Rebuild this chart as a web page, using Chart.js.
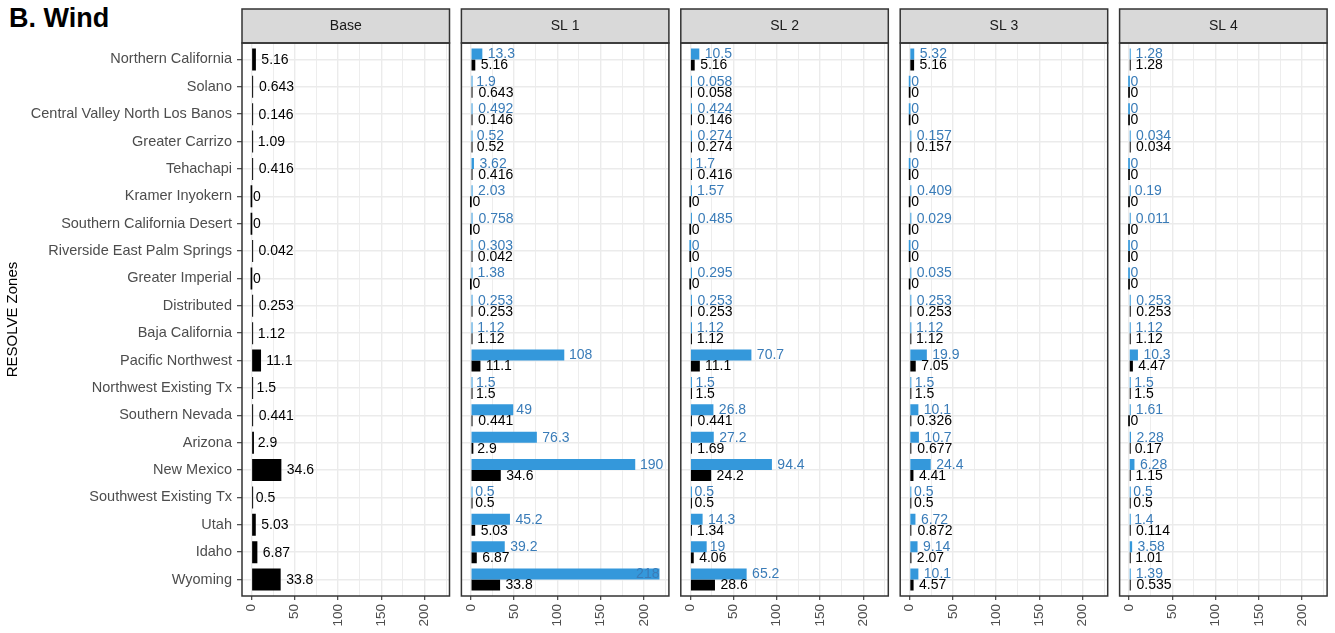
<!DOCTYPE html>
<html>
<head>
<meta charset="utf-8">
<script src="https://cdn.jsdelivr.net/npm/chart.js@4.4.1/dist/chart.umd.min.js"></script>
<style>
  html, body { margin:0; padding:0; background:#ffffff; }
  body { width:1335px; height:633px; position:relative; overflow:hidden; font-family:"Liberation Sans", Arial, sans-serif; }
  canvas { position:absolute; }
  #title { position:absolute; left:9px; top:5px; font-weight:bold; font-size:27px; line-height:27px; color:#000; white-space:nowrap; }
</style>
</head>
<body>
<div id="title">B. Wind</div>
<script>
// ---------------- data ----------------
const zones = [
  "Northern California", "Solano", "Central Valley North Los Banos", "Greater Carrizo",
  "Tehachapi", "Kramer Inyokern", "Southern California Desert", "Riverside East Palm Springs",
  "Greater Imperial", "Distributed", "Baja California", "Pacific Northwest",
  "Northwest Existing Tx", "Southern Nevada", "Arizona", "New Mexico",
  "Southwest Existing Tx", "Utah", "Idaho", "Wyoming"
];
const panelNames = ["Base", "SL 1", "SL 2", "SL 3", "SL 4"];

const baseBlack = [5.16, 0.643, 0.146, 1.09, 0.416, 0, 0, 0.042, 0, 0.253, 1.12, 11.1, 1.5, 0.441, 2.9, 34.6, 0.5, 5.03, 6.87, 33.8];

const sl1Blue  = [13.3, 1.9, 0.492, 0.52, 3.62, 2.03, 0.758, 0.303, 1.38, 0.253, 1.12, 108, 1.5, 49, 76.3, 190, 0.5, 45.2, 39.2, 218];
const sl1Black = [5.16, 0.643, 0.146, 0.52, 0.416, 0, 0, 0.042, 0, 0.253, 1.12, 11.1, 1.5, 0.441, 2.9, 34.6, 0.5, 5.03, 6.87, 33.8];

const sl2Blue  = [10.5, 0.058, 0.424, 0.274, 1.7, 1.57, 0.485, 0, 0.295, 0.253, 1.12, 70.7, 1.5, 26.8, 27.2, 94.4, 0.5, 14.3, 19, 65.2];
const sl2Black = [5.16, 0.058, 0.146, 0.274, 0.416, 0, 0, 0, 0, 0.253, 1.12, 11.1, 1.5, 0.441, 1.69, 24.2, 0.5, 1.34, 4.06, 28.6];

const sl3Blue  = [5.32, 0, 0, 0.157, 0, 0.409, 0.029, 0, 0.035, 0.253, 1.12, 19.9, 1.5, 10.1, 10.7, 24.4, 0.5, 6.72, 9.14, 10.1];
const sl3Black = [5.16, 0, 0, 0.157, 0, 0, 0, 0, 0, 0.253, 1.12, 7.05, 1.5, 0.326, 0.677, 4.41, 0.5, 0.872, 2.07, 4.57];

const sl4Blue  = [1.28, 0, 0, 0.034, 0, 0.19, 0.011, 0, 0, 0.253, 1.12, 10.3, 1.5, 1.61, 2.28, 6.28, 0.5, 1.4, 3.58, 1.39];
const sl4Black = [1.28, 0, 0, 0.034, 0, 0, 0, 0, 0, 0.253, 1.12, 4.47, 1.5, 0, 0.17, 1.15, 0.5, 0.114, 1.01, 0.535];

const xMajorTicks = [0, 50, 100, 150, 200];
const xMinorTicks = [25, 75, 125, 175, 225];
const xLimits = [-10.9, 228.9];

// ---------------- style / layout ----------------
const W = 1335, H = 633;
const STRIP_TOP = 9, PLOT_TOP = 43, PLOT_BOTTOM = 596;
const FIRST_LEFT = 242, PANEL_W = 207.5, PANEL_STEP = 219.4;
const BLUE = "#3498DB", BLUE_TEXT = "#3A7CB8", BLACK = "#000000";
const FONT = '"Liberation Sans", Arial, sans-serif';

const panelSeries = [
  [{ values: baseBlack, color: BLACK, text: BLACK }],
  [{ values: sl1Blue, color: BLUE, text: BLUE_TEXT }, { values: sl1Black, color: BLACK, text: BLACK }],
  [{ values: sl2Blue, color: BLUE, text: BLUE_TEXT }, { values: sl2Black, color: BLACK, text: BLACK }],
  [{ values: sl3Blue, color: BLUE, text: BLUE_TEXT }, { values: sl3Black, color: BLACK, text: BLACK }],
  [{ values: sl4Blue, color: BLUE, text: BLUE_TEXT }, { values: sl4Black, color: BLACK, text: BLACK }]
];

const panelDeco = {
  id: 'panelDeco',
  afterDraw(chart, args, opts) {
    const { ctx, chartArea: a } = chart;
    ctx.save();
    ctx.fillStyle = '#D9D9D9';
    ctx.fillRect(a.left, STRIP_TOP, a.right - a.left, a.top - STRIP_TOP);
    ctx.strokeStyle = '#333333';
    ctx.lineWidth = 1.5;
    ctx.strokeRect(a.left, STRIP_TOP, a.right - a.left, a.top - STRIP_TOP);
    ctx.strokeRect(a.left, a.top, a.right - a.left, a.bottom - a.top);
    ctx.fillStyle = '#1A1A1A';
    ctx.font = '14px ' + FONT;
    ctx.textAlign = 'center';
    ctx.textBaseline = 'middle';
    ctx.fillText(opts.title, (a.left + a.right) / 2, (STRIP_TOP + a.top) / 2 + 0.5);
    ctx.restore();
  }
};

const barLabels = {
  id: 'barLabels',
  afterDatasetsDraw(chart) {
    const { ctx, chartArea: a } = chart;
    const xs = chart.scales.x;
    ctx.save();
    ctx.font = '14px ' + FONT;
    ctx.textBaseline = 'middle';
    chart.data.datasets.forEach((ds, di) => {
      const meta = chart.getDatasetMeta(di);
      meta.data.forEach((bar, j) => {
        const v = ds.data[j].x;
        const txt = String(v);
        const w = ctx.measureText(txt).width;
        const px = xs.getPixelForValue(v);
        let x = px + 0.2 * w;
        ctx.textAlign = 'left';
        if (x + w > a.right - 2) { x = px; ctx.textAlign = 'right'; }
        ctx.fillStyle = ds.labelColor;
        ctx.fillText(txt, x, bar.y + 0.5);
      });
    });
    ctx.restore();
  }
};

function makePanel(pi) {
  const left = FIRST_LEFT + pi * PANEL_STEP;
  const right = left + PANEL_W;
  const cLeft = pi === 0 ? 0 : Math.floor(left) - 10;
  const cRight = Math.ceil(right) + 8;
  const cw = cRight - cLeft;
  const canvas = document.createElement('canvas');
  canvas.width = cw; canvas.height = H;
  canvas.style.left = cLeft + 'px'; canvas.style.top = '0px';
  canvas.style.width = cw + 'px'; canvas.style.height = H + 'px';
  document.body.appendChild(canvas);
  const padLeft = pi === 0 ? 0 : left - cLeft;
  const padRight = cRight - right;
  const isBase = pi === 0;

  const datasets = panelSeries[pi].map(s => ({
    data: s.values.map((v, i) => ({ x: v, y: i })),
    backgroundColor: s.color,
    borderWidth: 0,
    labelColor: s.text,
    categoryPercentage: 0.8,
    barPercentage: 1.0,
    minBarLength: 1.7
  }));

  const isMajor = v => xMajorTicks.includes(v);

  new Chart(canvas, {
    type: 'bar',
    data: { datasets },
    plugins: [barLabels, panelDeco],
    options: {
      responsive: false,
      animation: false,
      devicePixelRatio: 1,
      indexAxis: 'y',
      layout: { padding: { top: PLOT_TOP, left: padLeft, right: padRight, bottom: 0 } },
      plugins: {
        legend: { display: false },
        tooltip: { enabled: false },
        panelDeco: { title: panelNames[pi] }
      },
      scales: {
        x: {
          type: 'linear',
          position: 'bottom',
          min: xLimits[0], max: xLimits[1],
          offset: false,
          afterBuildTicks: axis => {
            axis.ticks = xMajorTicks.concat(xMinorTicks).sort((a, b) => a - b).map(v => ({ value: v }));
          },
          afterFit: s => { s.height = H - PLOT_BOTTOM; s.paddingLeft = 0; s.paddingRight = 0; },
          border: { display: false },
          grid: {
            offset: false,
            color: '#EBEBEB',
            lineWidth: c => (c.tick && isMajor(c.tick.value)) ? 1.4 : 0.9,
            tickColor: c => (c.tick && isMajor(c.tick.value)) ? '#333333' : 'rgba(0,0,0,0)',
            tickLength: 4,
            tickWidth: 1.1
          },
          ticks: {
            autoSkip: false,
            minRotation: 90, maxRotation: 90,
            padding: 4,
            color: '#4D4D4D',
            font: { size: 13.5, family: FONT },
            callback: v => isMajor(v) ? String(v) : ''
          }
        },
        y: {
          type: 'linear',
          reverse: true,
          offset: false,
          min: -0.6, max: zones.length - 0.4,
          afterBuildTicks: axis => { axis.ticks = zones.map((z, i) => ({ value: i })); },
          afterFit: s => { s.width = isBase ? left - padLeft : 0; s.paddingTop = 0; s.paddingBottom = 0; },
          border: { display: false },
          title: {
            display: isBase,
            text: 'RESOLVE Zones',
            color: '#000000',
            font: { size: 15, family: FONT },
            padding: { top: 4, bottom: 0 }
          },
          grid: {
            offset: false,
            color: '#EBEBEB',
            lineWidth: 1.4,
            drawTicks: isBase,
            tickColor: '#333333',
            tickLength: 5,
            tickWidth: 1.1
          },
          ticks: {
            display: isBase,
            autoSkip: false,
            padding: 5,
            color: '#4D4D4D',
            font: { size: 14.5, family: FONT },
            callback: v => zones[v] !== undefined ? zones[v] : ''
          }
        }
      }
    }
  });
}

panelNames.forEach((_, i) => makePanel(i));
</script>
</body>
</html>
